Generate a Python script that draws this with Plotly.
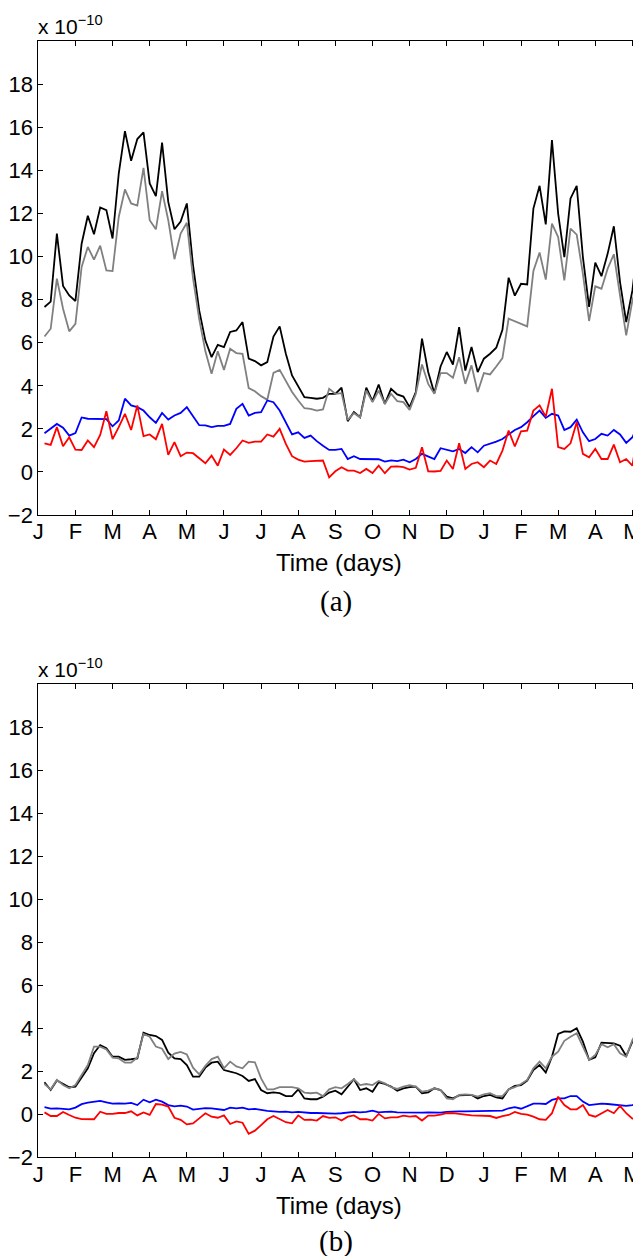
import plotly.graph_objects as go

# ---------------- data (values in units of 1e-10) ----------------
step_days = 5
month_ticks = [0, 30, 60, 90, 120, 150, 180, 210, 240, 270, 300, 330, 360, 390, 420, 450, 480]
month_labels = ["J", "F", "M", "A", "M", "J", "J", "A", "S", "O", "N", "D", "J", "F", "M", "A", "M"]
y_ticks = [-2, 0, 2, 4, 6, 8, 10, 12, 14, 16, 18]

top_black = [7.66, 7.91, 11.07, 8.64, 8.2, 7.94, 10.6, 11.9, 11.04, 12.28, 12.16, 10.84, 13.86, 15.83,
             14.45, 15.46, 15.77, 13.4, 12.81, 15.29, 12.54, 11.27, 11.63, 12.47, 9.6, 7.5, 6.1, 5.33,
             5.9, 5.8, 6.5, 6.57,
             6.96, 5.26, 5.15, 4.95, 5.1, 6.29, 6.76, 5.49, 4.48, 3.94, 3.47, 3.44, 3.4, 3.44, 3.63,
             3.63, 3.91, 2.36, 2.78, 2.54, 3.91, 3.29, 4.06, 3.16, 3.86, 3.6, 3.5, 3.01, 3.71, 6.19,
             4.64, 3.66,
             4.9, 5.57, 4.99, 6.73, 4.71, 5.8, 4.64, 5.26, 5.49, 5.77, 6.6, 9.02, 8.19, 8.74, 8.71,
             12.23, 13.29, 11.5, 15.41, 12.0, 9.98, 12.7, 13.29, 9.98, 7.66, 9.72, 9.09, 10.14, 11.41,
             8.82, 6.96, 8.43, 10.91]
top_gray = [6.29, 6.65, 8.98, 7.58, 6.53, 6.88, 9.52, 10.45, 9.86, 10.51, 9.36, 9.33, 11.84, 13.12,
            12.47, 12.37, 14.12, 11.69, 11.27, 13.04, 11.69, 9.88, 11.07, 11.57, 9.0, 7.1, 5.6, 4.56,
            5.6, 4.74, 5.72, 5.52,
            5.49, 3.89, 3.75, 3.52, 3.35, 4.6, 4.74, 4.22, 3.71, 3.32, 2.96, 2.93, 2.85, 2.9, 3.86,
            3.63, 3.66, 2.42, 2.73, 2.54, 3.78, 3.24, 3.78, 3.16, 3.63, 3.29, 3.24, 2.88, 3.63, 4.99,
            4.09, 3.63,
            4.59, 4.59, 4.37, 5.33, 4.09, 4.95, 3.71, 4.59, 4.53, 4.9, 5.29, 7.12, 7.01, 6.88, 6.76,
            9.33, 10.19, 8.93, 11.53, 10.91, 8.9, 11.3, 11.02, 9.2, 7.01, 8.62, 8.51, 9.44, 10.11,
            8.2, 6.34, 7.97, 8.87]
top_blue = [1.8, 2.0, 2.23, 2.05, 1.69, 1.81, 2.53, 2.47, 2.47, 2.48, 2.45, 2.12, 2.39, 3.4, 3.09,
            3.01, 2.85, 2.54, 2.28, 2.74, 2.43, 2.62, 2.74, 3.01, 2.57, 2.17, 2.16, 2.08, 2.14, 2.14,
            2.23, 2.93,
            3.16, 2.62, 2.74, 2.78, 3.32, 3.24, 2.85, 2.31, 1.74, 1.84, 1.58, 1.69, 1.43, 1.22, 1.02,
            1.02, 1.07, 0.6, 0.73, 0.6, 0.6, 0.59, 0.59, 0.48, 0.54, 0.5, 0.57, 0.45, 0.6, 0.84,
            0.71, 0.6,
            1.1, 1.04, 0.96, 1.07, 0.88, 1.15, 0.91, 1.22, 1.3, 1.41, 1.53, 1.74, 1.95, 2.08, 2.31,
            2.59, 2.85, 2.51, 2.7, 2.62, 1.95, 2.08, 2.43, 1.84, 1.43, 1.53, 1.77, 1.69, 1.95, 1.74,
            1.35, 1.61, 2.26]
top_red = [1.33, 1.26, 2.08, 1.19, 1.61, 1.04, 1.02, 1.46, 1.15, 1.72, 2.82, 1.52, 2.08, 2.7, 1.95,
           3.09, 1.66, 1.74, 1.52, 2.23, 0.79, 1.38, 0.73, 0.9, 0.87, 0.65, 0.4, 0.76, 0.29, 1.04,
           0.79, 1.1,
           1.46, 1.35, 1.41, 1.41, 1.74, 1.64, 2.0, 1.3, 0.73, 0.57, 0.48, 0.5, 0.53, 0.53, -0.25,
           0.03, 0.22, 0.06, 0.06, -0.05, 0.14, -0.05, 0.29, -0.06, 0.25, 0.26, 0.22, 0.11, 0.19,
           1.15, 0.03, 0.02,
           0.05, 0.53, 0.14, 1.33, 0.14, 0.37, 0.45, 0.22, 0.53, 0.37, 0.99, 1.92, 1.18, 1.89, 1.92,
           2.85, 3.09, 2.57, 3.86, 1.15, 1.07, 1.33, 2.31, 0.84, 0.68, 1.07, 0.6, 0.6, 1.27, 0.45,
           0.6, 0.29, 2.08]

bot_black = [1.49, 1.13, 1.57, 1.41, 1.26, 1.29, 1.72, 2.14, 2.84, 3.22, 3.07, 2.68, 2.68, 2.53,
             2.56, 2.6, 3.8, 3.69, 3.64, 3.46, 2.87, 2.6, 2.57, 2.29, 1.75, 1.75, 2.17, 2.4, 2.45,
             2.06, 1.98, 1.91, 1.78, 1.55, 1.64, 1.13, 0.98, 1.02, 0.98, 0.85, 0.85, 1.16, 0.74,
             0.7, 0.7, 0.82, 1.01, 1.1,
             0.93, 1.29, 1.63, 1.13, 1.21, 1.05, 1.49, 1.41, 1.29, 1.1, 1.21, 1.26, 1.29, 0.98,
             1.02, 1.21, 1.13, 0.82, 0.74, 0.88, 0.88, 0.9, 0.74, 0.85, 0.9, 0.79, 0.74, 1.16,
             1.32, 1.36, 1.57, 2.06, 2.29, 1.94, 2.68, 3.74, 3.86, 3.84, 4.0, 3.38, 2.53, 2.65,
             3.33, 3.3, 3.3, 3.19, 2.71, 3.38, 3.69]
bot_gray = [1.41, 1.16, 1.6, 1.36, 1.21, 1.36, 1.83, 2.29, 3.15, 3.15, 3.02, 2.64, 2.6, 2.4, 2.4,
            2.64, 3.74, 3.61, 3.15, 3.05, 2.57, 2.82, 2.9, 2.78, 2.17, 1.86, 2.25, 2.57, 2.68,
            2.14, 2.45, 2.23, 2.14, 2.45, 2.42, 1.67, 1.16, 1.16, 1.26, 1.26, 1.26, 1.21, 1.01,
            0.98, 1.01, 0.85, 1.16, 1.26,
            1.21, 1.41, 1.63, 1.36, 1.41, 1.36, 1.55, 1.44, 1.26, 1.18, 1.29, 1.36, 1.29, 1.05,
            1.1, 1.21, 1.13, 0.74, 0.7, 0.9, 0.93, 0.9, 0.82, 0.93, 0.98, 0.85, 0.85, 1.16, 1.26,
            1.41, 1.6, 2.14, 2.45, 2.14, 2.68, 2.91, 3.42, 3.61, 3.77, 3.15, 2.53, 2.76, 3.26,
            3.12, 3.26, 2.84, 2.68, 3.46, 3.92]
bot_blue = [0.33, 0.26, 0.28, 0.26, 0.23, 0.31, 0.47, 0.54, 0.57, 0.62, 0.56, 0.5, 0.51, 0.5,
            0.53, 0.43, 0.68, 0.56, 0.68, 0.59, 0.43, 0.37, 0.4, 0.36, 0.22, 0.26, 0.29, 0.28,
            0.25, 0.2, 0.31, 0.28, 0.31, 0.23, 0.25, 0.19, 0.16, 0.14, 0.11, 0.12, 0.09, 0.11,
            0.08, 0.06, 0.06, 0.05, 0.03, 0.03,
            0.05, 0.08, 0.11, 0.09, 0.11, 0.17, 0.09, 0.11, 0.12, 0.09, 0.08, 0.08, 0.08, 0.08,
            0.09, 0.08, 0.08, 0.11, 0.14, 0.14, 0.14, 0.14, 0.16, 0.16, 0.16, 0.17, 0.17, 0.28,
            0.33, 0.26, 0.39, 0.5, 0.5, 0.48, 0.67, 0.74, 0.74, 0.85, 0.85, 0.59, 0.43, 0.47,
            0.5, 0.48, 0.45, 0.43, 0.39, 0.43, 0.51]
bot_red = [0.09, -0.08, -0.08, 0.11, -0.03, -0.16, -0.22, -0.22, -0.23, 0.12, 0.02, 0.02, 0.06,
           0.06, 0.14, -0.05, 0.09, -0.03, 0.48, 0.45, 0.36, -0.16, -0.26, -0.47, -0.42, -0.19,
           0.05, -0.11, -0.16, -0.05, -0.45, -0.33, -0.39, -0.91, -0.76, -0.5, -0.23, -0.08,
           -0.23, -0.37, -0.42, -0.05, -0.26, -0.25, -0.29, -0.08, -0.17, -0.14,
           -0.29, -0.11, -0.05, -0.23, -0.22, -0.29, 0.02, -0.19, -0.14, -0.14, -0.06, -0.11,
           -0.08, -0.29, -0.06, -0.06, -0.02, 0.05, 0.05, 0.0, -0.02, -0.05, -0.06, -0.05, -0.08,
           -0.17, -0.08, -0.03, 0.11, 0.02, -0.02, -0.11, -0.23, -0.26, 0.05, 0.82, 0.43, 0.23,
           0.23, 0.43, -0.03, -0.11, 0.05, 0.2, 0.05, 0.39, 0.05, -0.2, -0.23]

# ---------------- layout helpers ----------------
# the page body adds an 8 px margin, so the figure is built 8 px smaller and all
# target pixel positions are shifted by that offset
OFF = 8
W, H = 641 - OFF, 1256 - OFF
def fx(p):
    return (p - OFF) / W
def fy(p):
    return 1 - (p - OFF) / H

def days(vals):
    return [step_days * (k + 1) for k in range(len(vals))]

fig = go.Figure()
colors = {"black": "#000000", "gray": "#808080", "blue": "#0000ff", "red": "#ff0000"}
panels = [
    ("x", "y", [(top_black, "black"), (top_gray, "gray"), (top_blue, "blue"), (top_red, "red")]),
    ("x2", "y2", [(bot_black, "black"), (bot_gray, "gray"), (bot_blue, "blue"), (bot_red, "red")]),
]
for xa, ya, series in panels:
    for vals, c in series:
        fig.add_trace(go.Scatter(x=days(vals), y=vals, mode="lines", xaxis=xa, yaxis=ya,
                                 line=dict(color=colors[c], width=1.8), showlegend=False,
                                 hoverinfo="skip"))

tick_font = dict(family="Liberation Sans, Arial, Helvetica, sans-serif", size=22, color="black")
axis_common = dict(showline=True, linecolor="black", linewidth=1, mirror="ticks",
                   ticks="inside", ticklen=5, tickwidth=1, tickcolor="black",
                   showgrid=False, zeroline=False, tickfont=tick_font, automargin=False)

xdom = [fx(38.3), fx(638.6)]
fig.update_layout(
    width=W, height=H, margin=dict(l=0, r=0, t=0, b=0, autoexpand=False),
    paper_bgcolor="white", plot_bgcolor="white",
    xaxis=dict(domain=xdom, anchor="y", range=[0, 485], tickvals=month_ticks,
               ticktext=month_labels, ticklabelstandoff=-3, ticklabeloverflow="allow",
               **axis_common),
    yaxis=dict(domain=[fy(515), fy(41.3)], anchor="x", range=[-2, 20], tickvals=y_ticks,
               **axis_common),
    xaxis2=dict(domain=xdom, anchor="y2", range=[0, 485], tickvals=month_ticks,
                ticktext=month_labels, ticklabelstandoff=-3, ticklabeloverflow="allow",
                **axis_common),
    yaxis2=dict(domain=[fy(1157.3), fy(684.3)], anchor="x2", range=[-2, 20], tickvals=y_ticks,
                **axis_common),
)

label_font = dict(family="Liberation Sans, Arial, Helvetica, sans-serif", size=24, color="black")
serif_font = dict(family="Liberation Serif, Times New Roman, serif", size=29, color="black")
scale_font = dict(family="Liberation Sans, Arial, Helvetica, sans-serif", size=21, color="black")

annotations = []
for top_px, title_px, tag_px, tag in [(41.3, 562, 601, "(a)"), (684.3, 1205, 1241, "(b)")]:
    annotations.append(dict(text="x 10<sup>\u221210</sup>", x=fx(36), y=fy(top_px - 1),
                            xref="paper", yref="paper", xanchor="left", yanchor="bottom",
                            showarrow=False, font=scale_font))
    annotations.append(dict(text="Time (days)", x=fx(338.5), y=fy(title_px), xref="paper",
                            yref="paper", xanchor="center", yanchor="middle", showarrow=False,
                            font=label_font))
    annotations.append(dict(text=tag, x=fx(336), y=fy(tag_px), xref="paper", yref="paper",
                            xanchor="center", yanchor="middle", showarrow=False, font=serif_font))
fig.update_layout(annotations=annotations)

fig.write_html("out.html")
